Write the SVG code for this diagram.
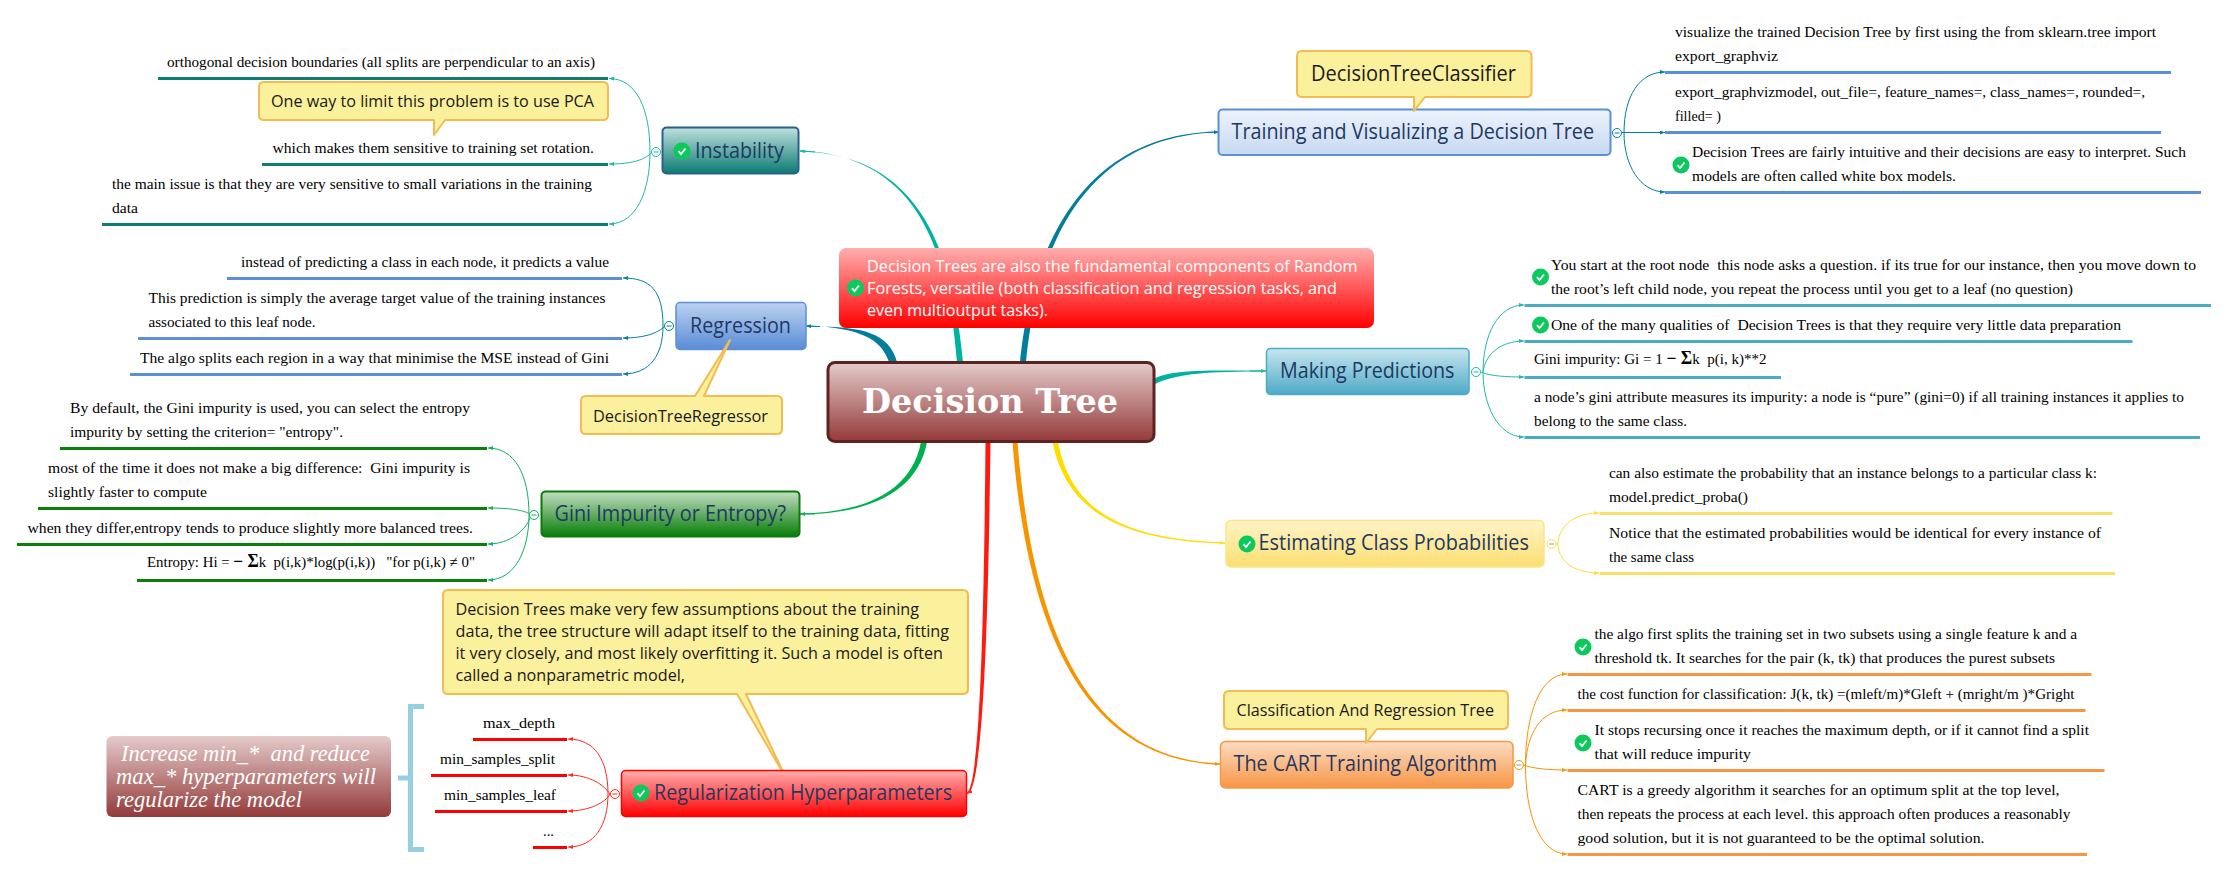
<svg xmlns="http://www.w3.org/2000/svg" width="2229" height="871" viewBox="0 0 2229 871">
<style>
.l{font-family:"Liberation Serif","Times New Roman",serif;font-size:15.500px;fill:#000;white-space:pre}
.m{font-weight:bold;font-size:18px}
.n{font-family:"Open Sans","Noto Sans",sans-serif;font-size:22px;fill:#1f3864}
.c{font-family:"Open Sans","Noto Sans",sans-serif;font-size:17px;fill:#1a1a1a}
.w{font-family:"Open Sans","Noto Sans",sans-serif;font-size:17px;fill:#fff}
.i{font-family:"Liberation Serif","Times New Roman",serif;font-style:italic;font-size:24px;fill:#fff;white-space:pre}
.r{font-family:"DejaVu Serif",serif;font-weight:bold;font-size:34px;fill:#fff}
.co{fill:#fbf09c;stroke:#f4bb52;stroke-width:2;stroke-linejoin:round}
.b{fill:none;stroke-width:3}
.s{fill:none;stroke-width:1}
.f{fill:#fff;stroke-width:1}
.teal{stroke:#1fb9a6}.blue{stroke:#007f9c}.green{stroke:#12b060}.red{stroke:#ff2a20}.orange{stroke:#f79500}.yellow{stroke:#ffdd33}
</style>
<defs>
<linearGradient id="gRoot" x1="0" y1="0" x2="0" y2="1"><stop offset="0" stop-color="#e4cbca"/><stop offset="1" stop-color="#933a39"/></linearGradient>
<linearGradient id="gInst" x1="0" y1="0" x2="0" y2="1"><stop offset="0" stop-color="#bfe0dc"/><stop offset="1" stop-color="#0b7c72"/></linearGradient>
<linearGradient id="gRegr" x1="0" y1="0" x2="0" y2="1"><stop offset="0" stop-color="#bcd2f1"/><stop offset="1" stop-color="#5a8cd6"/></linearGradient>
<linearGradient id="gGini" x1="0" y1="0" x2="0" y2="1"><stop offset="0" stop-color="#c3dec3"/><stop offset="1" stop-color="#067d06"/></linearGradient>
<linearGradient id="gRed" x1="0" y1="0" x2="0" y2="1"><stop offset="0" stop-color="#ffaeae"/><stop offset="1" stop-color="#ff0000"/></linearGradient>
<linearGradient id="gTrain" x1="0" y1="0" x2="0" y2="1"><stop offset="0" stop-color="#eef3fb"/><stop offset="1" stop-color="#c6d9f1"/></linearGradient>
<linearGradient id="gPred" x1="0" y1="0" x2="0" y2="1"><stop offset="0" stop-color="#c6e6ef"/><stop offset="1" stop-color="#4fa9c6"/></linearGradient>
<linearGradient id="gEst" x1="0" y1="0" x2="0" y2="1"><stop offset="0" stop-color="#fff4c8"/><stop offset="1" stop-color="#fbdf70"/></linearGradient>
<linearGradient id="gCart" x1="0" y1="0" x2="0" y2="1"><stop offset="0" stop-color="#fcdcc2"/><stop offset="1" stop-color="#f79646"/></linearGradient>
<g id="chk"><circle r="8.500" fill="#0bc95c"/><path d="M-3.500 0.200L-1 3L3.500-2.500" fill="none" stroke="#fff" stroke-width="1.800"/></g>
<marker id="mT" viewBox="0 0 5 4" refX="5" refY="2" markerWidth="5" markerHeight="4" markerUnits="userSpaceOnUse" orient="auto"><path d="M0 0L5 2L0 4Z" fill="#1fb9a6"/></marker>
<marker id="mB" viewBox="0 0 5 4" refX="5" refY="2" markerWidth="5" markerHeight="4" markerUnits="userSpaceOnUse" orient="auto"><path d="M0 0L5 2L0 4Z" fill="#007f9c"/></marker>
<marker id="mG" viewBox="0 0 5 4" refX="5" refY="2" markerWidth="5" markerHeight="4" markerUnits="userSpaceOnUse" orient="auto"><path d="M0 0L5 2L0 4Z" fill="#12b060"/></marker>
<marker id="mR" viewBox="0 0 5 4" refX="5" refY="2" markerWidth="5" markerHeight="4" markerUnits="userSpaceOnUse" orient="auto"><path d="M0 0L5 2L0 4Z" fill="#ff2a20"/></marker>
<marker id="mO" viewBox="0 0 5 4" refX="5" refY="2" markerWidth="5" markerHeight="4" markerUnits="userSpaceOnUse" orient="auto"><path d="M0 0L5 2L0 4Z" fill="#f79500"/></marker>
<marker id="mY" viewBox="0 0 5 4" refX="5" refY="2" markerWidth="5" markerHeight="4" markerUnits="userSpaceOnUse" orient="auto"><path d="M0 0L5 2L0 4Z" fill="#ffdd33"/></marker>
</defs>
<rect width="2229" height="871" fill="#fff"/>

<g id="connectors">
<path fill="#00b3a0" d="M957 362C949.500 280 934 156 800 150.500L800 151.500C936 154 954.500 280 963 362Z"/>
<path class="s" stroke="#00b3a0" d="M815 152L800 151" marker-end="url(#mT)"/>
<path fill="#007f9c" d="M1020 362C1027 290 1059 134 1218 131.500L1218 132.500C1061 136 1033 290 1026 362Z"/>
<path class="s" stroke="#007f9c" d="M1205 132.500L1219 132" marker-end="url(#mB)"/>
<path fill="#007f9c" d="M889 362C881 338 859 328 807 325.500L807 326.500C861 326 889 332 897 362Z"/>
<path class="s" stroke="#007f9c" d="M820 326.500L806 326" marker-end="url(#mB)"/>
<path fill="#00b0a0" d="M1155 378C1175 369 1210 370.500 1266 370.500L1266 371.500C1210 371.500 1178 373 1155 384Z"/>
<path class="s" stroke="#00b0a0" d="M1250 371L1266 371" marker-end="url(#mT)"/>
<path fill="#00b050" d="M921 442C912 489 869 512.500 800 513.500L800 514.500C871 514 918 491 927 442Z"/>
<path class="s" stroke="#00b050" d="M815 514L800 514" marker-end="url(#mG)"/>
<path fill="#ff1a10" d="M985.500 442C984.500 560 982 785 967 792.500L968 793.500C985.500 786 989 560 990.500 442Z"/>
<path class="s" stroke="#ff1a10" d="M972 791L967 793.500" marker-end="url(#mR)"/>
<path fill="#f79500" d="M1012.500 442C1028 640 1089 761 1220 764.500L1220 763.500C1092 759 1033 640 1017.500 442Z"/>
<path class="s" stroke="#f79500" d="M1205 763.500L1220 764" marker-end="url(#mO)"/>
<path fill="#ffdd00" d="M1052.500 442C1066 510 1119 541 1225 543.500L1225 542.500C1121 539 1071 510 1058 442Z"/>
<path class="s" stroke="#ffdd00" d="M1210 542.500L1225 543" marker-end="url(#mY)"/>

<path class="s teal" d="M650 152C650 110 637 78.500 609 78.500" marker-end="url(#mT)"/>
<path class="s teal" d="M652 152C645 160 632 164 609 164" marker-end="url(#mT)"/>
<path class="s teal" d="M650 152C650 190 637 224 609 224" marker-end="url(#mT)"/>
<path class="s blue" d="M663 326C663 290 650 278 623 278" marker-end="url(#mB)"/>
<path class="s blue" d="M665 326C658 333 645 338 623 338" marker-end="url(#mB)"/>
<path class="s blue" d="M663 326C663 355 650 374 623 374" marker-end="url(#mB)"/>
<path class="s green" d="M529 515C529 475 515 448 488 448" marker-end="url(#mG)"/>
<path class="s green" d="M531 515C525 510 510 508 488 508" marker-end="url(#mG)"/>
<path class="s green" d="M531 515C527 530 510 544 488 544" marker-end="url(#mG)"/>
<path class="s green" d="M529 515C529 550 515 580 488 580" marker-end="url(#mG)"/>
<path class="s red" d="M608 794C608 760 595 739 568 739" marker-end="url(#mR)"/>
<path class="s red" d="M610 794C604 785 590 775 568 775" marker-end="url(#mR)"/>
<path class="s red" d="M610 794C606 802 590 811 568 811" marker-end="url(#mR)"/>
<path class="s red" d="M608 794C608 825 595 847 568 847" marker-end="url(#mR)"/>
<path class="s blue" d="M1624 133C1624 95 1640 72 1665 72" marker-end="url(#mB)"/>
<path class="s blue" d="M1622 132.500L1665 132.500" marker-end="url(#mB)"/>
<path class="s blue" d="M1624 133C1624 165 1640 192 1665 192" marker-end="url(#mB)"/>
<path class="s teal" d="M1483 372C1483 335 1498 305 1524 305" marker-end="url(#mT)"/>
<path class="s teal" d="M1483 372C1485 355 1500 341 1524 341" marker-end="url(#mT)"/>
<path class="s teal" d="M1481 372C1487 375 1500 377 1524 377" marker-end="url(#mT)"/>
<path class="s teal" d="M1483 372C1483 405 1498 437 1524 437" marker-end="url(#mT)"/>
<path class="s yellow" d="M1558 544C1558 530 1570 513 1599 513" marker-end="url(#mY)"/>
<path class="s yellow" d="M1558 544C1558 558 1570 573 1599 573" marker-end="url(#mY)"/>
<path class="s yellow" d="M1556 544L1558 544"/>
<path class="s orange" d="M1525.500 765C1525.500 715 1540 674 1567 674" marker-end="url(#mO)"/>
<path class="s orange" d="M1525.500 765C1527 735 1540 710 1567 710" marker-end="url(#mO)"/>
<path class="s orange" d="M1523 765C1532 768 1545 770 1567 770" marker-end="url(#mO)"/>
<path class="s orange" d="M1525.500 765C1525.500 815 1540 854 1567 854" marker-end="url(#mO)"/>
</g>

<g id="note-random-forests">
<rect x="839" y="248" width="535" height="80" rx="7" fill="url(#gRed)"/>
<use href="#chk" x="855.500" y="288"/>
<text class="w" x="867" y="272" textLength="490.600" lengthAdjust="spacingAndGlyphs">Decision Trees are also the fundamental components of Random</text>
<text class="w" x="867" y="294" textLength="470" lengthAdjust="spacingAndGlyphs">Forests, versatile (both classification and regression tasks, and</text>
<text class="w" x="867" y="316" textLength="181" lengthAdjust="spacingAndGlyphs">even multioutput tasks).</text>
</g>

<g id="root">
<rect x="828" y="362.500" width="326" height="79" rx="7" fill="url(#gRoot)" stroke="#5e2220" stroke-width="3"/>
<text class="r" x="862" y="413" textLength="256" lengthAdjust="spacingAndGlyphs">Decision Tree</text>
</g>

<g id="instability">
<rect x="662.500" y="127.500" width="136" height="46" rx="4" fill="url(#gInst)" stroke="#2a6090" stroke-width="2"/>
<use href="#chk" x="682" y="151"/>
<text class="n" x="695" y="158" textLength="89" lengthAdjust="spacingAndGlyphs">Instability</text>
<circle class="f teal" cx="656" cy="152" r="4.500"/><path class="s teal" d="M653.500 152H658.500"/>
</g>
<g id="leaf-orthogonal">
<text class="l" x="167" y="67" textLength="428" lengthAdjust="spacingAndGlyphs">orthogonal decision boundaries (all splits are perpendicular to an axis)</text>
<path class="b" stroke="#0c7f74" d="M158 78.500H608"/>
</g>
<g id="leaf-rotation">
<text class="l" x="272.500" y="153" textLength="321.500" lengthAdjust="spacingAndGlyphs">which makes them sensitive to training set rotation.</text>
<path class="b" stroke="#0c7f74" d="M262 164.500H608"/>
</g>
<g id="leaf-main-issue">
<text class="l" x="112" y="189" textLength="480" lengthAdjust="spacingAndGlyphs">the main issue is that they are very sensitive to small variations in the training</text>
<text class="l" x="112" y="213" textLength="26" lengthAdjust="spacingAndGlyphs">data</text>
<path class="b" stroke="#0c7f74" d="M102 224.500H608"/>
</g>
<g id="callout-pca">
<path class="co" d="M264 82H603Q608 82 608 87V115Q608 120 603 120H445L434 135V120H264Q259 120 259 115V87Q259 82 264 82Z"/>
<text class="c" x="271" y="107" textLength="323" lengthAdjust="spacingAndGlyphs">One way to limit this problem is to use PCA</text>
</g>

<g id="regression">
<rect x="676" y="302.500" width="130" height="47" rx="4" fill="url(#gRegr)" stroke="#5b8fd9" stroke-width="1.500"/>
<text class="n" x="690" y="333" textLength="101" lengthAdjust="spacingAndGlyphs">Regression</text>
<circle class="f blue" cx="669" cy="326" r="4.500"/><path class="s blue" d="M666.500 326H671.500"/>
</g>
<g id="leaf-predicts-value">
<text class="l" x="241" y="267" textLength="368" lengthAdjust="spacingAndGlyphs">instead of predicting a class in each node, it predicts a value</text>
<path class="b" stroke="#5b8fd9" d="M227 278.500H622"/>
</g>
<g id="leaf-average">
<text class="l" x="148.500" y="303" textLength="457" lengthAdjust="spacingAndGlyphs">This prediction is simply the average target value of the training instances</text>
<text class="l" x="148.500" y="327" textLength="167" lengthAdjust="spacingAndGlyphs">associated to this leaf node.</text>
<path class="b" stroke="#5b8fd9" d="M138 338.500H622"/>
</g>
<g id="leaf-mse">
<text class="l" x="140" y="363" textLength="469" lengthAdjust="spacingAndGlyphs">The algo splits each region in a way that minimise the MSE instead of Gini</text>
<path class="b" stroke="#5b8fd9" d="M130 374.500H622"/>
</g>
<g id="callout-regressor">
<path class="co" d="M586 396H695L730 340L704 396H777Q782 396 782 401V429Q782 434 777 434H586Q581 434 581 429V401Q581 396 586 396Z"/>
<text class="c" x="593" y="421.500" textLength="175" lengthAdjust="spacingAndGlyphs">DecisionTreeRegressor</text>
</g>

<g id="gini">
<rect x="541.500" y="491.500" width="258" height="45" rx="4" fill="url(#gGini)" stroke="#0c7a0c" stroke-width="2"/>
<text class="n" x="554.500" y="521" textLength="231.500" lengthAdjust="spacingAndGlyphs">Gini Impurity or Entropy?</text>
<circle class="f green" cx="534" cy="515" r="4.500"/><path class="s green" d="M531.500 515H536.500"/>
</g>
<g id="leaf-default">
<text class="l" x="70" y="413" textLength="400" lengthAdjust="spacingAndGlyphs">By default, the Gini impurity is used, you can select the entropy</text>
<text class="l" x="70" y="437" textLength="273" lengthAdjust="spacingAndGlyphs">impurity by setting the criterion= "entropy".</text>
<path class="b" stroke="#0a7f0a" d="M60 448.500H487"/>
</g>
<g id="leaf-difference">
<text class="l" x="48" y="473" textLength="422" lengthAdjust="spacingAndGlyphs">most of the time it does not make a big difference:  Gini impurity is</text>
<text class="l" x="48" y="497" textLength="159" lengthAdjust="spacingAndGlyphs">slightly faster to compute</text>
<path class="b" stroke="#0a7f0a" d="M38 508.500H487"/>
</g>
<g id="leaf-differ">
<text class="l" x="27.500" y="533" textLength="445.500" lengthAdjust="spacingAndGlyphs">when they differ,entropy tends to produce slightly more balanced trees.</text>
<path class="b" stroke="#0a7f0a" d="M17 544.500H487"/>
</g>
<g id="leaf-entropy">
<text class="l" x="147" y="567" textLength="328" lengthAdjust="spacingAndGlyphs">Entropy: Hi = <tspan class="m">− Σ</tspan>k  p(i,k)*log(p(i,k))   "for p(i,k) ≠ 0"</text>
<path class="b" stroke="#0a7f0a" d="M137 580.500H487"/>
</g>

<g id="callout-nonparametric">
<path class="co" d="M448 590H963Q968 590 968 595V689Q968 694 963 694H746L786 778L737 694H448Q443 694 443 689V595Q443 590 448 590Z"/>
<text class="c" x="455.500" y="615" textLength="463.500" lengthAdjust="spacingAndGlyphs">Decision Trees make very few assumptions about the training</text>
<text class="c" x="455.500" y="637" textLength="493.500" lengthAdjust="spacingAndGlyphs">data, the tree structure will adapt itself to the training data, fitting</text>
<text class="c" x="455.500" y="659" textLength="487.500" lengthAdjust="spacingAndGlyphs">it very closely, and most likely overfitting it. Such a model is often</text>
<text class="c" x="455.500" y="681" textLength="229.500" lengthAdjust="spacingAndGlyphs">called a nonparametric model,</text>
</g>

<g id="regularization">
<rect x="621.500" y="770.500" width="345" height="46" rx="4" fill="url(#gRed)" stroke="#f00" stroke-width="1.500"/>
<use href="#chk" x="641" y="793"/>
<text class="n" x="654" y="800" textLength="298" lengthAdjust="spacingAndGlyphs">Regularization Hyperparameters</text>
<circle class="f red" cx="615" cy="794" r="4.500"/><path class="s red" d="M612.500 794H617.500"/>
</g>
<g id="leaf-max-depth">
<text class="l" x="483" y="728" textLength="72" lengthAdjust="spacingAndGlyphs">max_depth</text>
<path class="b" stroke="#f00" d="M473 739.500H567"/>
</g>
<g id="leaf-min-split">
<text class="l" x="440" y="764" textLength="115" lengthAdjust="spacingAndGlyphs">min_samples_split</text>
<path class="b" stroke="#f00" d="M431 775.500H567"/>
</g>
<g id="leaf-min-leaf">
<text class="l" x="444" y="800" textLength="112" lengthAdjust="spacingAndGlyphs">min_samples_leaf</text>
<path class="b" stroke="#f00" d="M435 811.500H567"/>
</g>
<g id="leaf-ellipsis">
<text class="l" x="543" y="836" textLength="11" lengthAdjust="spacingAndGlyphs">...</text>
<path class="b" stroke="#f00" d="M533 847.500H567"/>
</g>
<g id="summary-bracket">
<path fill="none" stroke="#96cfe0" stroke-width="5" d="M424 706.500H410.500V849.500H424M398 778H410.500"/>
</g>
<g id="summary">
<rect x="106.500" y="736" width="284.500" height="81" rx="6" fill="url(#gRoot)"/>
<text class="i" x="121" y="761" textLength="249" lengthAdjust="spacingAndGlyphs">Increase min_*  and reduce</text>
<text class="i" x="116" y="784" textLength="260" lengthAdjust="spacingAndGlyphs">max_* hyperparameters will</text>
<text class="i" x="116" y="807" textLength="186" lengthAdjust="spacingAndGlyphs">regularize the model</text>
</g>

<g id="training">
<rect x="1218.500" y="109.500" width="392" height="45.500" rx="4" fill="url(#gTrain)" stroke="#5b8fd9" stroke-width="2"/>
<text class="n" x="1231.500" y="139" textLength="362.500" lengthAdjust="spacingAndGlyphs">Training and Visualizing a Decision Tree</text>
<circle class="f blue" cx="1617" cy="133" r="4.500"/><path class="s blue" d="M1614.500 133H1619.500"/>
</g>
<g id="callout-classifier">
<path class="co" d="M1302 51H1526.500Q1531.500 51 1531.500 56V92Q1531.500 97 1526.500 97H1425L1414 111V97H1302Q1297 97 1297 92V56Q1297 51 1302 51Z"/>
<text class="c" x="1311" y="81" style="font-size:22px" textLength="205" lengthAdjust="spacingAndGlyphs">DecisionTreeClassifier</text>
</g>
<g id="leaf-visualize">
<text class="l" x="1675" y="37" textLength="481" lengthAdjust="spacingAndGlyphs">visualize the trained Decision Tree by first using the from sklearn.tree import</text>
<text class="l" x="1675" y="61" textLength="103" lengthAdjust="spacingAndGlyphs">export_graphviz</text>
<path class="b" stroke="#5b8fd9" d="M1665 72.500H2171"/>
</g>
<g id="leaf-export">
<text class="l" x="1675" y="97" textLength="470" lengthAdjust="spacingAndGlyphs">export_graphvizmodel, out_file=, feature_names=, class_names=, rounded=,</text>
<text class="l" x="1675" y="121" textLength="46" lengthAdjust="spacingAndGlyphs">filled= )</text>
<path class="b" stroke="#5b8fd9" d="M1665 132.500H2161"/>
</g>
<g id="leaf-white-box">
<use href="#chk" x="1681" y="165"/>
<text class="l" x="1692" y="157" textLength="494" lengthAdjust="spacingAndGlyphs">Decision Trees are fairly intuitive and their decisions are easy to interpret. Such</text>
<text class="l" x="1692" y="181" textLength="264" lengthAdjust="spacingAndGlyphs">models are often called white box models.</text>
<path class="b" stroke="#5b8fd9" d="M1665 192.500H2201"/>
</g>

<g id="predictions">
<rect x="1266.500" y="348.500" width="202.500" height="46" rx="4" fill="url(#gPred)" stroke="#4bacc6" stroke-width="1.500"/>
<text class="n" x="1280" y="378" textLength="174.500" lengthAdjust="spacingAndGlyphs">Making Predictions</text>
<circle class="f teal" cx="1476" cy="372" r="4.500"/><path class="s teal" d="M1473.500 372H1478.500"/>
</g>
<g id="leaf-root-node">
<use href="#chk" x="1540.500" y="277"/>
<text class="l" x="1551" y="270" textLength="645" lengthAdjust="spacingAndGlyphs">You start at the root node  this node asks a question. if its true for our instance, then you move down to</text>
<text class="l" x="1551" y="294" textLength="522" lengthAdjust="spacingAndGlyphs">the root’s left child node, you repeat the process until you get to a leaf (no question)</text>
<path class="b" stroke="#4bacc6" d="M1524.500 305.500H2211"/>
</g>
<g id="leaf-qualities">
<use href="#chk" x="1540.500" y="325"/>
<text class="l" x="1551" y="330" textLength="570" lengthAdjust="spacingAndGlyphs">One of the many qualities of  Decision Trees is that they require very little data preparation</text>
<path class="b" stroke="#4bacc6" d="M1524.500 341.500H2132.500"/>
</g>
<g id="leaf-gini-formula">
<text class="l" x="1534" y="364" textLength="232.500" lengthAdjust="spacingAndGlyphs">Gini impurity: Gi = 1 <tspan class="m">− Σ</tspan>k  p(i, k)**2</text>
<path class="b" stroke="#4bacc6" d="M1524.500 377.500H1781"/>
</g>
<g id="leaf-pure">
<text class="l" x="1534" y="402" textLength="650" lengthAdjust="spacingAndGlyphs">a node’s gini attribute measures its impurity: a node is “pure” (gini=0) if all training instances it applies to</text>
<text class="l" x="1534" y="426" textLength="153" lengthAdjust="spacingAndGlyphs">belong to the same class.</text>
<path class="b" stroke="#4bacc6" d="M1524.500 437.500H2200"/>
</g>

<g id="estimating">
<rect x="1226" y="520.500" width="318" height="46.500" rx="5" fill="url(#gEst)" stroke="#fce38a" stroke-width="1.500"/>
<use href="#chk" x="1247" y="544"/>
<text class="n" x="1258.500" y="550" textLength="270.500" lengthAdjust="spacingAndGlyphs">Estimating Class Probabilities</text>
<circle class="f yellow" cx="1551.500" cy="544" r="4.500"/><path class="s" stroke="#8a9ac0" d="M1549 544H1554"/>
</g>
<g id="leaf-probability">
<text class="l" x="1609" y="478" textLength="488" lengthAdjust="spacingAndGlyphs">can also estimate the probability that an instance belongs to a particular class k:</text>
<text class="l" x="1609" y="502" textLength="139" lengthAdjust="spacingAndGlyphs">model.predict_proba()</text>
<path class="b" stroke="#fbdf6c" d="M1599.500 513.500H2112.500"/>
</g>
<g id="leaf-identical">
<text class="l" x="1609" y="538" textLength="492" lengthAdjust="spacingAndGlyphs">Notice that the estimated probabilities would be identical for every instance of</text>
<text class="l" x="1609" y="562" textLength="85" lengthAdjust="spacingAndGlyphs">the same class</text>
<path class="b" stroke="#fbdf6c" d="M1599.500 573.500H2115"/>
</g>

<g id="cart">
<rect x="1220.500" y="741.500" width="292.500" height="46.500" rx="5" fill="url(#gCart)" stroke="#f79646" stroke-width="1.500"/>
<text class="n" x="1233.500" y="771" textLength="263.500" lengthAdjust="spacingAndGlyphs">The CART Training Algorithm</text>
<circle class="f orange" cx="1519" cy="765" r="4.500"/><path class="s" stroke="#8a9ac0" d="M1516.500 765H1521.500"/>
</g>
<g id="callout-cart">
<path class="co" d="M1229 691H1503Q1508 691 1508 696V724Q1508 729 1503 729H1377L1366 743V729H1229Q1224 729 1224 724V696Q1224 691 1229 691Z"/>
<text class="c" x="1236.500" y="716" textLength="257.500" lengthAdjust="spacingAndGlyphs">Classification And Regression Tree</text>
</g>
<g id="leaf-splits">
<use href="#chk" x="1583" y="647"/>
<text class="l" x="1594.500" y="639" textLength="482.500" lengthAdjust="spacingAndGlyphs">the algo first splits the training set in two subsets using a single feature k and a</text>
<text class="l" x="1594.500" y="663" textLength="460.500" lengthAdjust="spacingAndGlyphs">threshold tk. It searches for the pair (k, tk) that produces the purest subsets</text>
<path class="b" stroke="#f79646" d="M1567.500 674.500H2091.500"/>
</g>
<g id="leaf-cost">
<text class="l" x="1577.500" y="699" textLength="497" lengthAdjust="spacingAndGlyphs">the cost function for classification: J(k, tk) =(mleft/m)*Gleft + (mright/m )*Gright</text>
<path class="b" stroke="#f79646" d="M1567.500 710.500H2085.500"/>
</g>
<g id="leaf-stops">
<use href="#chk" x="1583" y="743"/>
<text class="l" x="1594.500" y="735" textLength="494.500" lengthAdjust="spacingAndGlyphs">It stops recursing once it reaches the maximum depth, or if it cannot find a split</text>
<text class="l" x="1594.500" y="759" textLength="156.500" lengthAdjust="spacingAndGlyphs">that will reduce impurity</text>
<path class="b" stroke="#f79646" d="M1567.500 770.500H2104.500"/>
</g>
<g id="leaf-greedy">
<text class="l" x="1577.500" y="795" textLength="482" lengthAdjust="spacingAndGlyphs">CART is a greedy algorithm it searches for an optimum split at the top level,</text>
<text class="l" x="1577.500" y="819" textLength="493" lengthAdjust="spacingAndGlyphs">then repeats the process at each level. this approach often produces a reasonably</text>
<text class="l" x="1577.500" y="843" textLength="407" lengthAdjust="spacingAndGlyphs">good solution, but it is not guaranteed to be the optimal solution.</text>
<path class="b" stroke="#f79646" d="M1567.500 854.500H2087"/>
</g>
</svg>
